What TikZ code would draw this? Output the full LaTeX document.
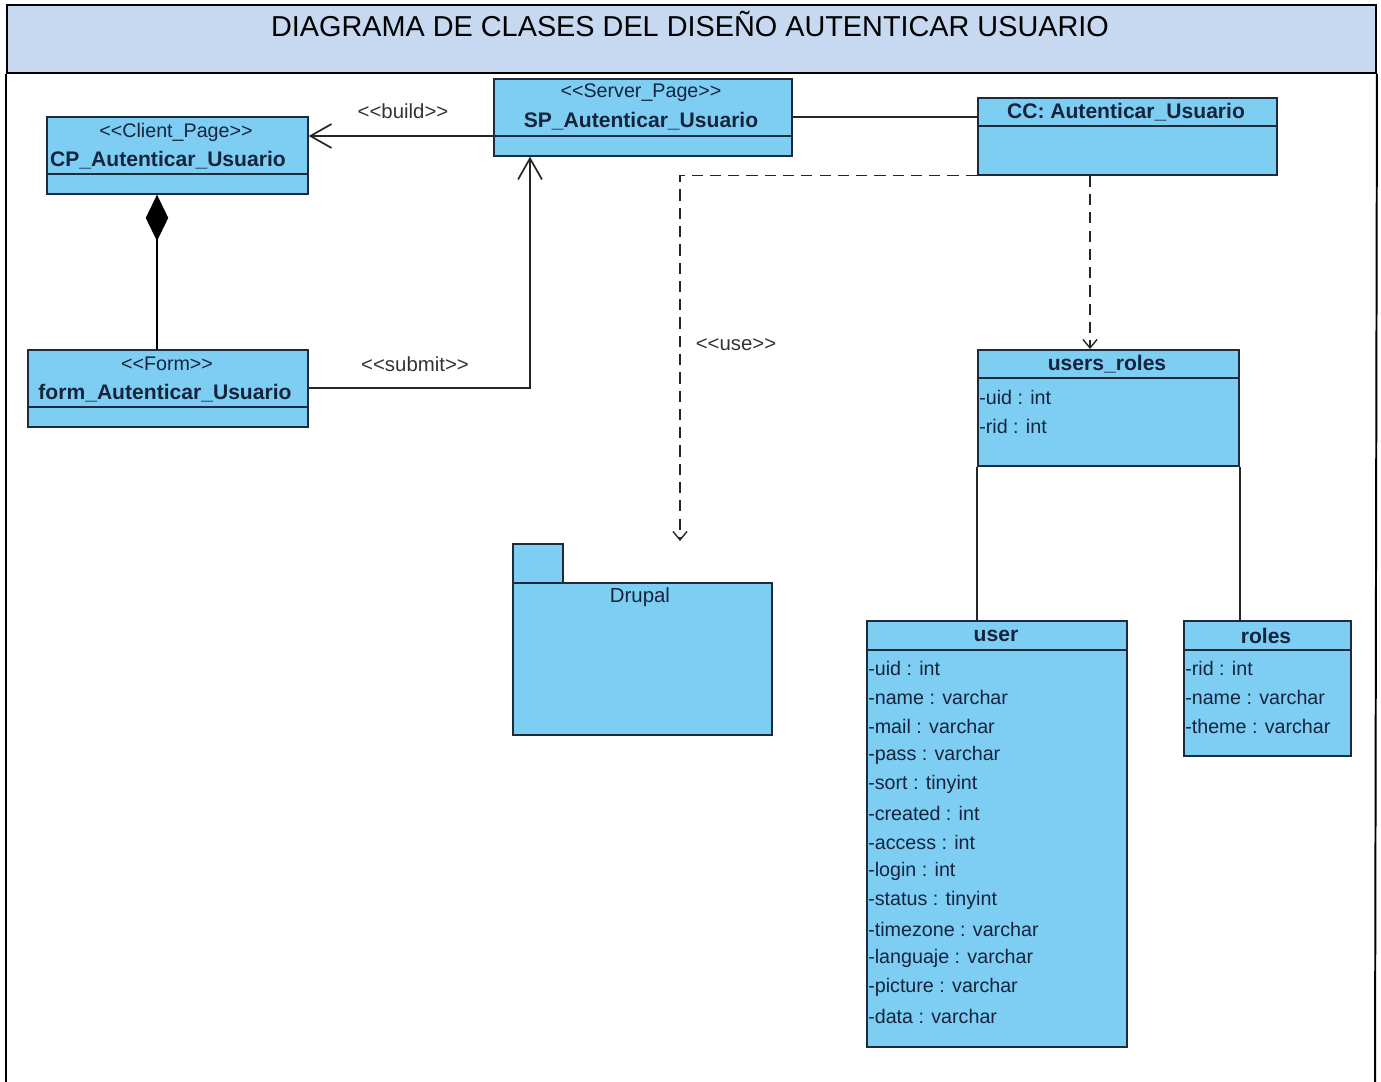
\documentclass[tikz,border=0pt]{standalone}
\usepackage{fontspec}
\setmainfont{Liberation Sans}
\usepackage{tikz}
\usetikzlibrary{positioning, calc, arrows.meta}
\definecolor{clsfill}{HTML}{7ECEF4}
\definecolor{titlefill}{HTML}{C6D9F1}
\definecolor{clsline}{HTML}{1E2B3A}
\definecolor{clstext}{HTML}{14243C}
\newcommand\stp[1]{<\kern0pt<#1>\kern0pt>}

\begin{document}
\begin{tikzpicture}[
  x=0.025cm, y=-0.025cm,
  cls/.style 2 args={draw=clsline, line width=1.2pt, fill=clsfill,
    minimum width={#1*\px cm}, minimum height={#2*\px cm},
    anchor=north west, inner sep=0pt},
  stereo/.style={font=\fontsize{14}{16}\selectfont, text=clstext, inner sep=0pt},
  cname/.style={font=\fontsize{15}{17}\selectfont\bfseries, text=clstext, inner sep=0pt},
  attr/.style={font=\fontsize{14}{16}\selectfont, text=clstext, anchor=west, inner sep=0pt},
  lbl/.style={font=\fontsize{14.5}{16}\selectfont, text=black!80, inner sep=0pt},
  sep/.style={draw=clsline, line width=1.2pt},
  conn/.style={draw=black!85, line width=1.2pt},
  bigopen/.style={conn, -{Straight Barb[length=15pt, width=17pt]}},
  dep/.style={conn, line width=1pt, dash pattern=on 8pt off 5pt, -{Straight Barb[length=6pt, width=10pt]}},
]

\def\px{0.025}
\useasboundingbox (0,0) rectangle (1381,1082);

% cabecera
\node[draw=black, line width=1.4pt, fill=titlefill, minimum width={1369*\px cm},
  minimum height={68*\px cm}, anchor=north west] (band) at (6,4) {};
\node[font=\fontsize{20.5}{23}\selectfont, inner sep=0pt] (title) at (690,24)
  {DIAGRAMA DE CLASES DEL DISEÑO AUTENTICAR USUARIO};
\draw[line width=1.4pt] (band.south west) -- (6,1082);
\draw[line width=1.4pt] (band.south east) -- (1375,1082);

% CP_Autenticar_Usuario
\node[cls={261}{77}] (cp) at (46,116) {};
\draw[sep] ($(cp.north west)+(0,58)$) -- ($(cp.north east)+(0,58)$);
\node[stereo] (cpS) at (176,132) {\stp{Client\_Page}};
\node[cname] (cpN) at (168,160) {CP\_Autenticar\_Usuario};

% SP_Autenticar_Usuario
\node[cls={298}{77}] (sp) at (493,78) {};
\draw[sep] ($(sp.north west)+(0,58)$) -- ($(sp.north east)+(0,58)$);
\node[stereo] (spS) at (641,93) {\stp{Server\_Page}};
\node[cname] (spN) at (641,121) {SP\_Autenticar\_Usuario};

% CC: Autenticar_Usuario
\node[cls={299}{77}] (cc) at (977,97) {};
\draw[sep] ($(cc.north west)+(0,29)$) -- ($(cc.north east)+(0,29)$);
\node[cname] (ccN) at (1126,112) {CC: Autenticar\_Usuario};

% form_Autenticar_Usuario
\node[cls={280}{77}] (form) at (27,349) {};
\draw[sep] ($(form.north west)+(0,58)$) -- ($(form.north east)+(0,58)$);
\node[stereo] (formS) at (167,364) {\stp{Form}};
\node[cname] (formN) at (165,393) {form\_Autenticar\_Usuario};

% users_roles
\node[cls={261}{116}] (ur) at (977,349) {};
\draw[sep] ($(ur.north west)+(0,29)$) -- ($(ur.north east)+(0,29)$);
\node[cname] (urN) at (1107,364) {users\_roles};
\node[attr] (urA) at (979,397) {-uid : int};
\node[attr] (urB) at (979,426) {-rid : int};

% Drupal
\node[cls={50}{39}] (dtab) at (512,543) {};
\node[cls={259}{152}] (drupal) at (512,582) {};
\node[font=\fontsize{14.5}{16}\selectfont, text=clstext, inner sep=0pt] (drupalN) at (640,597) {Drupal};

% user
\node[cls={260}{426}] (usr) at (866,620) {};
\draw[sep] ($(usr.north west)+(0,30)$) -- ($(usr.north east)+(0,30)$);
\node[cname] (usrN) at (996,636) {user};
\foreach \a [count=\i from 0] in {-uid : int, -name : varchar, -mail : varchar,
  -pass : varchar, -sort : tinyint, -created : int, -access : int, -login : int,
  -status : tinyint, -timezone : varchar, -languaje : varchar, -picture : varchar,
  -data : varchar}
  \node[attr] (usrA\i) at (868,668+29*\i) {\a};

% roles
\node[cls={167}{135}] (rol) at (1183,620) {};
\draw[sep] ($(rol.north west)+(0,30)$) -- ($(rol.north east)+(0,30)$);
\node[cname] (rolN) at (1266,636) {roles};
\foreach \a [count=\i from 0] in {-rid : int, -name : varchar, -theme : varchar}
  \node[attr] (rolA\i) at (1185,668+29*\i) {\a};

% relaciones
\coordinate (bld) at (0,136);
\coordinate (sub) at (530,0);
\coordinate (cmp) at (157,0);
\coordinate (dwn) at (1090,0);
\coordinate (usee) at (680,541);

\draw[bigopen] (sp.west |- bld) -- (cp.east |- bld);
\node[lbl] (bldL) at (403,111) {\stp{build}};

\draw[bigopen] (form.east) -| (sp.south -| sub);
\node[lbl] (subL) at (415,364) {\stp{submit}};

\draw[conn] (sp.east) -- (sp.east -| cc.west);

\draw[conn, draw=black, -{Diamond[length=33pt, width=16pt]}, fill=black]
  (form.north -| cmp) -- (cp.south -| cmp);

\draw[dep] (cc.south west) -| (usee);
\node[lbl] (useL) at (736,345) {\stp{use}};

\draw[dep] (cc.south -| dwn) -- (ur.north -| dwn);

\draw[conn] (ur.south west) -- (ur.south west |- usr.north);
\draw[conn] (ur.south east) -- (ur.south east |- rol.north);

\end{tikzpicture}
\end{document}
